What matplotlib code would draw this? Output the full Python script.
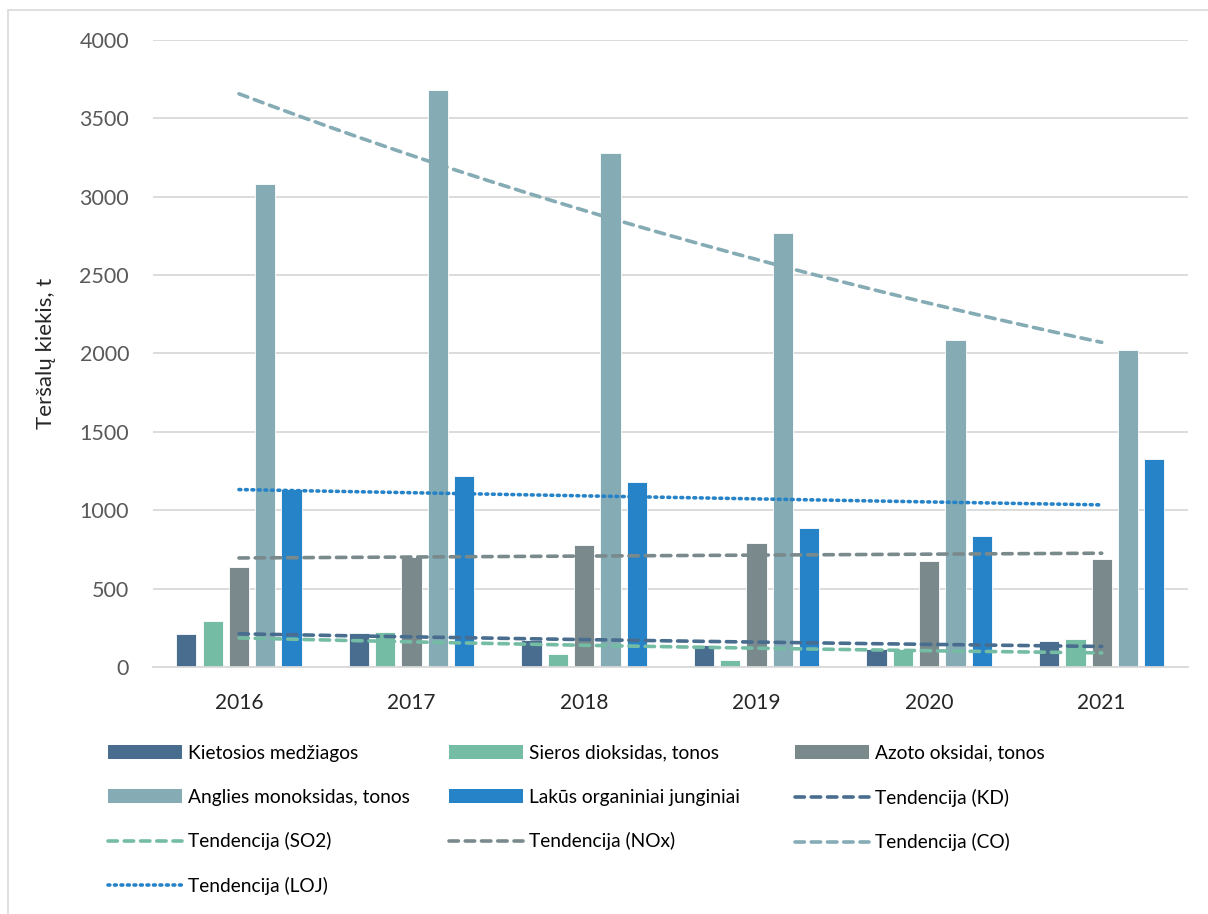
import numpy as np
import matplotlib
matplotlib.use("Agg")
import matplotlib.pyplot as plt
from matplotlib.patches import Rectangle, Patch

plt.rcParams['font.family'] = ['Lato', 'DejaVu Sans']

# teršalų kiekiai pagal metus, t
years = ['2016', '2017', '2018', '2019', '2020', '2021']
kd = [213, 217, 170, 143, 115, 165]
so2 = [292, 221, 81, 43, 115, 178]
nox = [638, 700, 780, 789, 678, 689]
co = [3080, 3677, 3280, 2767, 2086, 2020]
loj = [1134, 1219, 1178, 885, 838, 1325]

bar_labels = ['Kietosios medžiagos', 'Sieros dioksidas, tonos', 'Azoto oksidai, tonos',
              'Anglies monoksidas, tonos', 'Lakūs organiniai junginiai']
trend_labels = ['Tendencija (KD)', 'Tendencija (SO2)', 'Tendencija (NOx)',
                'Tendencija (CO)', 'Tendencija (LOJ)']
colors = ['#486D8F', '#75BCA5', '#7A8A8C', '#85ABB5', '#2783C8']

series = [kd, so2, nox, co, loj]

W, H = 1208, 914
fig = plt.figure(figsize=(W / 100, H / 100), dpi=100)
ax = fig.add_axes([152.7 / W, 1 - 667 / H, (1188 - 152.7) / W, (667 - 39.7) / H])

x = np.arange(len(years))
pitch = 0.1525
bw = 0.1176
for i, (vals, c) in enumerate(zip(series, colors)):
    ax.bar(x + (i - 2) * pitch, vals, width=bw, color=c, edgecolor='white',
           linewidth=0.6, zorder=2)

# eksponentinės tendencijos linijos
xs = np.linspace(0, len(years) - 1, 200)
trend_lines = []
for i, (vals, c) in enumerate(zip(series, colors)):
    k, b = np.polyfit(x, np.log(vals), 1)
    if i == 4:
        ls = (0, (0.5, 1.3))
    else:
        ls = (0, (2.6, 1.9))
    ln, = ax.plot(xs, np.exp(b + k * xs), color=c, lw=2.6, linestyle=ls,
                  dash_capstyle='round', zorder=3)
    trend_lines.append(ln)

ax.set_xlim(-0.5, len(years) - 0.5)
ax.set_ylim(0, 4000)
ax.set_yticks(np.arange(0, 4001, 500))
ax.set_xticks(x)
ax.set_xticklabels(years)
ax.grid(axis='y', color='#D9D9D9', lw=1.3, zorder=0)
ax.set_axisbelow(True)
for s in ['top', 'right', 'left']:
    ax.spines[s].set_visible(False)
ax.spines['bottom'].set_color('#D9D9D9')
ax.spines['bottom'].set_linewidth(1.3)
ax.tick_params(axis='both', length=0)
ax.tick_params(axis='y', pad=17, labelcolor='#595959', labelsize=15.5)
ax.tick_params(axis='x', pad=19, labelcolor='#262626', labelsize=15)
ax.set_ylabel('Teršalų kiekis, t', fontsize=16, color='#262626')
ax.yaxis.set_label_coords(-0.093, 0.5)

# legenda: trys stulpeliai
bar_h = [Patch(facecolor=c, edgecolor='none') for c in colors]
entries = list(zip(bar_h + trend_lines, bar_labels + trend_labels))
cols = [entries[0::3], entries[1::3], entries[2::3]]
col_x = [100, 441, 787]
for cx, col in zip(col_x, cols):
    h, l = zip(*col)
    fig.legend(h, l, loc='upper left', bbox_to_anchor=(cx / W, 1 - 737 / H),
               frameon=False, fontsize=13.8, handlelength=3.9, handleheight=0.75,
               handletextpad=0.3, labelspacing=1.4, borderaxespad=0)

fig.patches.append(Rectangle((8 / W, -0.05), 1.2, 1.05 - 10 / H, transform=fig.transFigure,
                             fill=False, edgecolor='#D9D9D9', lw=1.2))

fig.savefig('out.png', dpi=100, facecolor='white')
